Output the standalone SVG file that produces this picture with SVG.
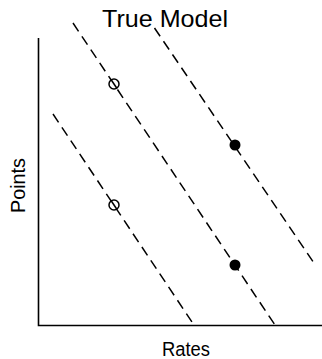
<svg xmlns="http://www.w3.org/2000/svg" width="322" height="359" viewBox="0 0 322 359">
  <style>
    .axis { stroke: #000; stroke-width: 1.6; fill: none; }
    .dash { stroke: #000; stroke-width: 1.5; stroke-dasharray: 10 6; fill: none; }
    .open { fill: #fff; stroke: #000; stroke-width: 1.5; }
    .slash { stroke: #000; stroke-width: 1.5; }
    .filled { fill: #000; }
    text { font-family: "Liberation Sans", Arial, sans-serif; fill: #000; }
  </style>
  <rect width="322" height="359" fill="#fff"/>
  <g id="axes">
    <polyline class="axis" points="38.5,38 38.5,325.5 322,325.5"/>
  </g>
  <g id="connectors">
    <line class="dash" x1="53" y1="114" x2="194" y2="325"/>
    <line class="dash" x1="73" y1="23" x2="275" y2="325"/>
    <line class="dash" x1="154.5" y1="28" x2="316" y2="266"/>
  </g>
  <g id="point-open-upper">
    <circle class="open" cx="114" cy="84" r="5"/>
    <line class="slash" x1="111" y1="79.5" x2="117" y2="88.5"/>
  </g>
  <g id="point-open-lower">
    <circle class="open" cx="114" cy="205" r="5"/>
    <line class="slash" x1="111" y1="200.5" x2="117" y2="209.5"/>
  </g>
  <g id="point-filled-upper">
    <circle class="filled" cx="235" cy="145" r="5.5"/>
  </g>
  <g id="point-filled-lower">
    <circle class="filled" cx="235" cy="265" r="5.5"/>
  </g>
  <g id="labels">
    <text x="165" y="27" font-size="24" text-anchor="middle" textLength="126" lengthAdjust="spacingAndGlyphs">True Model</text>
    <text transform="translate(25,185.5) rotate(-90)" font-size="21" text-anchor="middle" textLength="55" lengthAdjust="spacingAndGlyphs">Points</text>
    <text x="186" y="356" font-size="20" text-anchor="middle" textLength="48" lengthAdjust="spacingAndGlyphs">Rates</text>
  </g>
</svg>
